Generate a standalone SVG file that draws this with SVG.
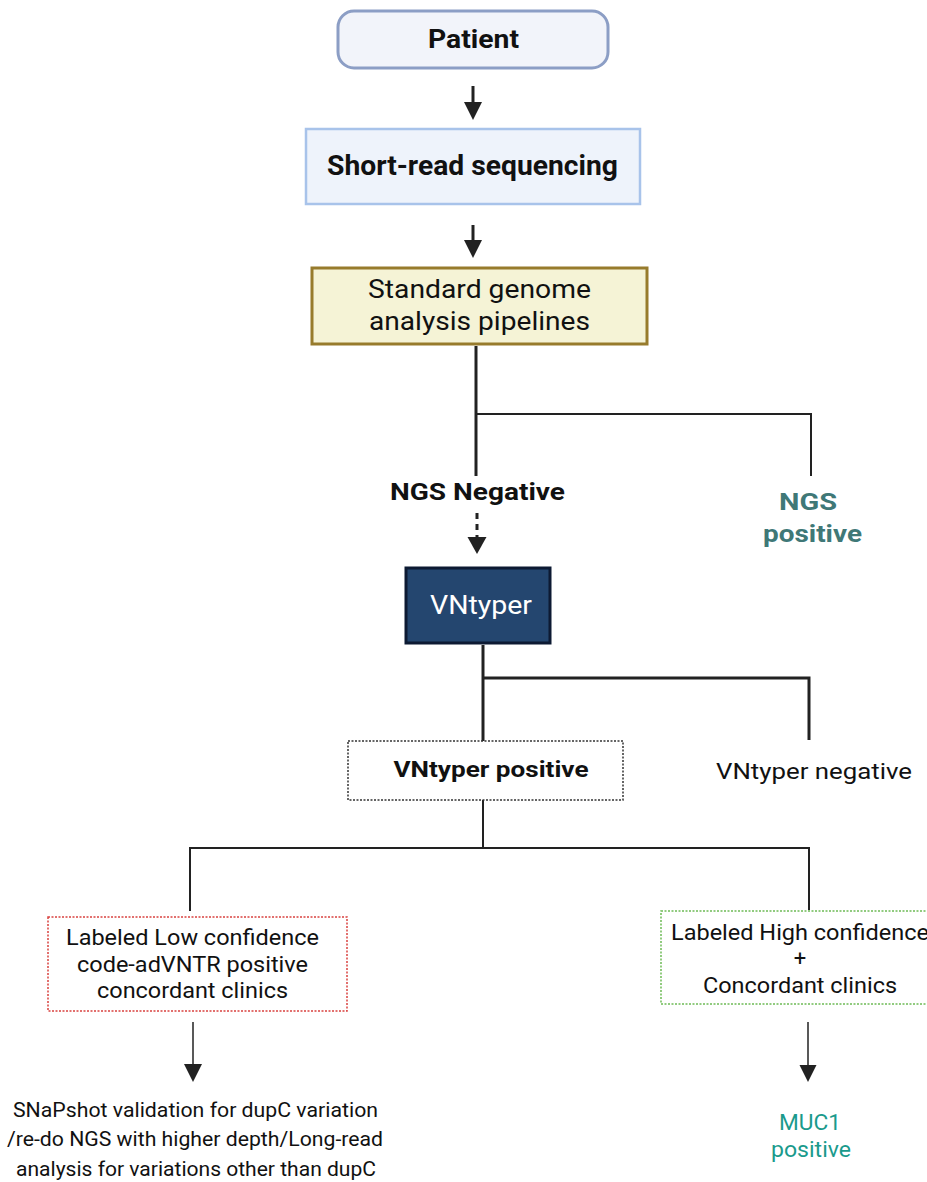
<svg xmlns="http://www.w3.org/2000/svg" width="927" height="1182" viewBox="0 0 927 1182">
<style>
text{font-family:Roboto,"Liberation Sans",sans-serif;fill:#111;text-anchor:middle}
.b{font-weight:bold}
.c{stroke:#222;fill:none}
.h{fill:#222}
</style>
<g id="connectors">
<path class="c" d="M473,86 V104" stroke-width="3"/>
<path class="h" d="M464,102 L482,102 L473,120 Z"/>
<path class="c" d="M473,225 V242" stroke-width="3"/>
<path class="h" d="M464,240 L482,240 L473,258 Z"/>
<path class="c" d="M476,346 V476" stroke-width="3"/>
<path class="c" d="M476,414 H811 V476" stroke-width="2"/>
<path class="c" d="M477,513 V538" stroke-width="3" stroke-dasharray="6,5"/>
<path class="h" d="M467.5,537 L486.5,537 L477,554 Z"/>
<path class="c" d="M483,645 V742" stroke-width="3"/>
<path class="c" d="M483,678 H809 V740" stroke-width="3"/>
<path class="c" d="M483,800 V848" stroke-width="2"/>
<path class="c" d="M190,911 V848 H809 V910" stroke-width="2"/>
<path class="c" d="M193,1022 V1066" stroke-width="1.5"/>
<path class="h" d="M184,1064 L202,1064 L193,1082 Z"/>
<path class="c" d="M808,1022 V1066" stroke-width="1.5"/>
<path class="h" d="M799.5,1065 L816.5,1065 L808,1082 Z"/>
</g>
<g id="patient">
<rect x="338" y="11" width="270" height="57" rx="16" fill="#f2f4fa" stroke="#8c9ec5" stroke-width="3"/>
<text x="473.5" y="48" class="b" font-size="26" textLength="91" lengthAdjust="spacingAndGlyphs">Patient</text>
</g>
<g id="short-read">
<rect x="306" y="129" width="334" height="75" fill="#eef3fb" stroke="#a8c3ea" stroke-width="2.5"/>
<text x="472.5" y="175" class="b" font-size="27" textLength="291" lengthAdjust="spacingAndGlyphs">Short-read sequencing</text>
</g>
<g id="standard">
<rect x="312" y="268" width="335" height="76" fill="#f5f3d6" stroke="#977b2c" stroke-width="3"/>
<text x="479.5" y="298" font-size="26" textLength="223" lengthAdjust="spacingAndGlyphs">Standard genome</text>
<text x="479.5" y="330" font-size="26" textLength="221" lengthAdjust="spacingAndGlyphs">analysis pipelines</text>
</g>
<g id="ngs-negative">
<text x="477.5" y="500" class="b" font-size="24" textLength="175" lengthAdjust="spacingAndGlyphs">NGS Negative</text>
</g>
<g id="ngs-positive">
<text x="808" y="510" class="b" font-size="24" textLength="58" lengthAdjust="spacingAndGlyphs" style="fill:#3f7877">NGS</text>
<text x="812.5" y="542" class="b" font-size="24" textLength="99" lengthAdjust="spacingAndGlyphs" style="fill:#3f7877">positive</text>
</g>
<g id="vntyper">
<rect x="406" y="568" width="144" height="75" fill="#24466f" stroke="#0d1a33" stroke-width="3"/>
<text x="481" y="614" font-size="25" textLength="102" lengthAdjust="spacingAndGlyphs" style="fill:#fff">VNtyper</text>
</g>
<g id="vntyper-positive">
<rect x="348" y="741" width="275" height="59" fill="#fff" stroke="#333" stroke-width="1.5" stroke-dasharray="2,1.5"/>
<text x="491" y="777" class="b" font-size="22.5" textLength="195" lengthAdjust="spacingAndGlyphs">VNtyper positive</text>
</g>
<g id="vntyper-negative">
<text x="814" y="779" font-size="22.5" textLength="196" lengthAdjust="spacingAndGlyphs">VNtyper negative</text>
</g>
<g id="low-confidence">
<rect x="48" y="917" width="299" height="94" fill="#fff" stroke="#d9413f" stroke-width="1.5" stroke-dasharray="2,1.5"/>
<text x="192.5" y="945" font-size="22" textLength="253" lengthAdjust="spacingAndGlyphs">Labeled Low confidence</text>
<text x="192.5" y="972" font-size="22" textLength="231" lengthAdjust="spacingAndGlyphs">code-adVNTR positive</text>
<text x="192.5" y="998" font-size="22" textLength="191" lengthAdjust="spacingAndGlyphs">concordant clinics</text>
</g>
<g id="high-confidence">
<rect x="661" y="911" width="280" height="93" fill="#fff" stroke="#6dbb55" stroke-width="1.5" stroke-dasharray="2,1.5"/>
<text x="800" y="940" font-size="22" textLength="258" lengthAdjust="spacingAndGlyphs">Labeled High confidence</text>
<text x="800" y="966" font-size="22">+</text>
<text x="800" y="993" font-size="22" textLength="194" lengthAdjust="spacingAndGlyphs">Concordant clinics</text>
</g>
<g id="snapshot">
<text x="195.5" y="1117" font-size="20" textLength="365" lengthAdjust="spacingAndGlyphs">SNaPshot validation for dupC variation</text>
<text x="195" y="1146" font-size="20" textLength="376" lengthAdjust="spacingAndGlyphs">/re-do NGS with higher depth/Long-read</text>
<text x="196" y="1176" font-size="20" textLength="360" lengthAdjust="spacingAndGlyphs">analysis for variations other than dupC</text>
</g>
<g id="muc1">
<text x="810" y="1130" font-size="22" textLength="62" lengthAdjust="spacingAndGlyphs" style="fill:#1a9a8c">MUC1</text>
<text x="811" y="1157" font-size="22" textLength="80" lengthAdjust="spacingAndGlyphs" style="fill:#1a9a8c">positive</text>
</g>
</svg>
